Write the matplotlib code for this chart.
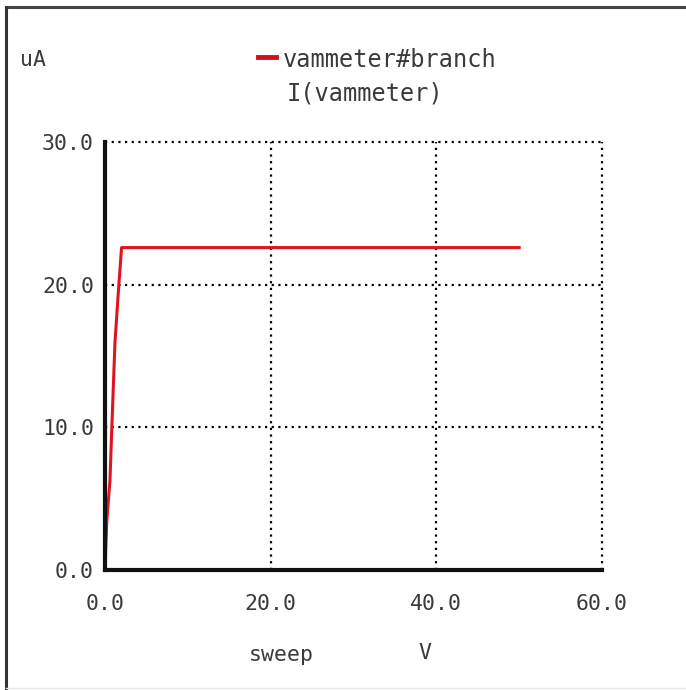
import matplotlib
matplotlib.use("Agg")
import matplotlib.pyplot as plt

# data
sweep_v = [0.0, 0.2, 0.6, 0.8, 1.2, 1.6, 2.0, 50.0]
current_ua = [0.0, 3.3, 6.3, 9.6, 15.9, 19.4, 22.6, 22.6]
x_ticks = [0, 20, 40, 60]
y_ticks = [0, 10, 20, 30]
x_tick_labels = ["0.0", "20.0", "40.0", "60.0"]
y_tick_labels = ["0.0", "10.0", "20.0", "30.0"]

W, H = 686, 690
fig = plt.figure(figsize=(W / 100, H / 100), dpi=100)
font = "DejaVu Sans Mono"
fs = 15.5
tc = "#3a3a3a"

left, right, top, bottom = 105, 602, 142, 570
ax = fig.add_axes([left / W, 1 - bottom / H, (right - left) / W, (bottom - top) / H])
ax.set_xlim(0, 60)
ax.set_ylim(0, 30)
ax.plot(sweep_v, current_ua, color="#e0141e", lw=2.2, zorder=3)

ax.set_xticks(x_ticks)
ax.set_yticks(y_ticks)
ax.set_xticklabels(x_tick_labels, family=font, fontsize=fs, color=tc)
ax.set_yticklabels(y_tick_labels, family=font, fontsize=fs, color=tc)
ax.tick_params(axis="y", length=0, pad=8)
ax.tick_params(axis="x", length=0, pad=17)
ax.grid(True, color="black", linestyle=(0, (1, 2)), lw=1.6)
for gl in ax.get_xgridlines() + ax.get_ygridlines():
    gl.set_clip_on(False)
for s in ["top", "right"]:
    ax.spines[s].set_visible(False)
for s in ["left", "bottom"]:
    ax.spines[s].set_color("#111111")
    ax.spines[s].set_linewidth(3)
    ax.spines[s].set_zorder(4)

# labels
fig.text(20 / W, 1 - 60 / H, "uA", family=font, fontsize=fs, color=tc, va="center")
fig.lines.append(plt.Line2D([258 / W, 276 / W], [1 - 57 / H, 1 - 57 / H],
                            transform=fig.transFigure, color="#d01020", lw=3.5))
fig.text(283 / W, 1 - 60 / H, "vammeter#branch", family=font, fontsize=fs + 1.5, color=tc, va="center")
fig.text(365 / W, 1 - 93 / H, "I(vammeter)", family=font, fontsize=fs + 1.5, color=tc, va="center", ha="center")
fig.text(281 / W, 1 - 655 / H, "sweep", family=font, fontsize=fs, color=tc, va="center", ha="center")
fig.text(425 / W, 1 - 653 / H, "V", family=font, fontsize=fs, color=tc, va="center", ha="center")

# outer frame: dark top and left edges, faint bottom edge
fig.lines.append(plt.Line2D([6 / W, 1.0], [1 - 7 / H, 1 - 7 / H], transform=fig.transFigure,
                            color="#444444", lw=2.2))
fig.lines.append(plt.Line2D([6 / W, 6 / W], [0.0, 1 - 7 / H], transform=fig.transFigure,
                            color="#333333", lw=2.2))
fig.lines.append(plt.Line2D([6 / W, 1.0], [2 / H, 2 / H], transform=fig.transFigure,
                            color="#e6e6e6", lw=1))

fig.savefig("out.png", dpi=100)
